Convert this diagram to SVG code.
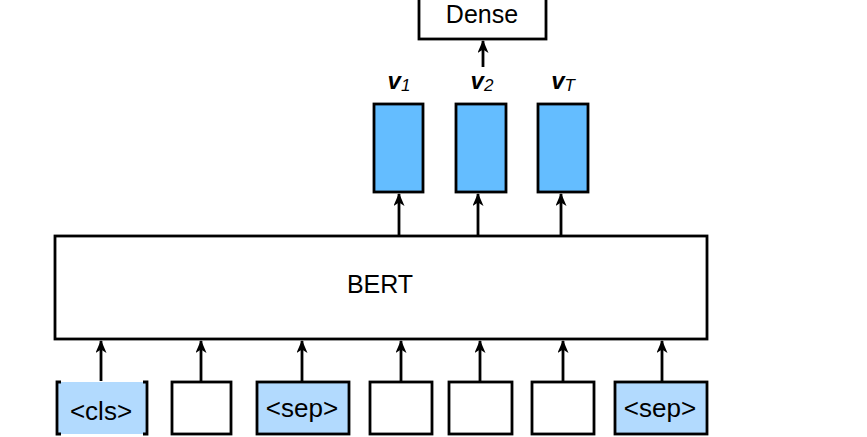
<svg xmlns="http://www.w3.org/2000/svg" width="867" height="437" viewBox="0 0 867 437">
<defs>
<marker id="ah" viewBox="0 0 13 11" refX="12" refY="5.5" markerWidth="13" markerHeight="11" markerUnits="userSpaceOnUse" orient="auto">
<path d="M0,0 L13,5.5 L0,11 L3.5,5.5 Z" fill="#000"/>
</marker>
<style>
.box{fill:#fff;stroke:#000;stroke-width:2.8}
.vec{fill:#64bdff;stroke:#000;stroke-width:2.8}
.tok{fill:#b2dafe;stroke:#000;stroke-width:2.8}
.edge{stroke:#000;stroke-width:2.8;fill:none;marker-end:url(#ah)}
.t{font-family:"Liberation Sans",Arial,sans-serif;fill:#000}
.v{font-family:"Liberation Sans",Arial,sans-serif;font-style:italic;fill:#000}
</style>
</defs>
<rect width="867" height="437" fill="#fff"/>
<g id="dense">
<rect class="box" x="419" y="-3" width="127" height="42"/>
<text class="t" x="482" y="23" font-size="25" text-anchor="middle">Dense</text>
</g>
<g id="v1">
<rect class="vec" x="374" y="104" width="49" height="88"/>
<text class="v" x="399" y="89" font-size="24" text-anchor="middle"><tspan font-weight="bold">v</tspan><tspan font-size="17" dy="2">1</tspan></text>
</g>
<g id="v2">
<rect class="vec" x="456" y="104" width="50" height="88"/>
<text class="v" x="482" y="89" font-size="24" text-anchor="middle"><tspan font-weight="bold">v</tspan><tspan font-size="17" dy="2">2</tspan></text>
</g>
<g id="vT">
<rect class="vec" x="538" y="104" width="50" height="88"/>
<text class="v" x="563" y="89" font-size="24" text-anchor="middle"><tspan font-weight="bold">v</tspan><tspan font-size="17" dy="2">T</tspan></text>
</g>
<g id="bert">
<rect class="box" x="55" y="236" width="652" height="103"/>
<text class="t" x="380" y="293" font-size="25" text-anchor="middle">BERT</text>
</g>
<g id="tok1">
<rect x="57" y="382" width="90" height="52" fill="#b2dafe"/>
<path d="M61,382 H57 V434 H61 M143,382 H147 V434 H143" fill="none" stroke="#000" stroke-width="2.8"/>
<text class="t" x="101" y="420" font-size="26" text-anchor="middle">&lt;cls&gt;</text>
</g>
<g id="tok2"><rect class="box" x="172" y="382" width="59" height="52"/></g>
<g id="tok3">
<rect class="tok" x="257" y="382" width="92" height="52"/>
<text class="t" x="302" y="417" font-size="26" text-anchor="middle">&lt;sep&gt;</text>
</g>
<g id="tok4"><rect class="box" x="370" y="382" width="62" height="52"/></g>
<g id="tok5"><rect class="box" x="449" y="382" width="63" height="52"/></g>
<g id="tok6"><rect class="box" x="532" y="382" width="62" height="52"/></g>
<g id="tok7">
<rect class="tok" x="615" y="382" width="92" height="52"/>
<text class="t" x="660" y="417" font-size="26" text-anchor="middle">&lt;sep&gt;</text>
</g>
<g id="connectors">
<line class="edge" x1="483" y1="67" x2="483" y2="41"/>
<line class="edge" x1="399" y1="235" x2="399" y2="194"/>
<line class="edge" x1="478" y1="235" x2="478" y2="194"/>
<line class="edge" x1="561" y1="235" x2="561" y2="194"/>
<line class="edge" x1="101" y1="381" x2="101" y2="341"/>
<line class="edge" x1="201" y1="381" x2="201" y2="341"/>
<line class="edge" x1="302" y1="381" x2="302" y2="341"/>
<line class="edge" x1="401" y1="381" x2="401" y2="341"/>
<line class="edge" x1="480" y1="381" x2="480" y2="341"/>
<line class="edge" x1="563" y1="381" x2="563" y2="341"/>
<line class="edge" x1="662" y1="381" x2="662" y2="341"/>
</g>
</svg>
